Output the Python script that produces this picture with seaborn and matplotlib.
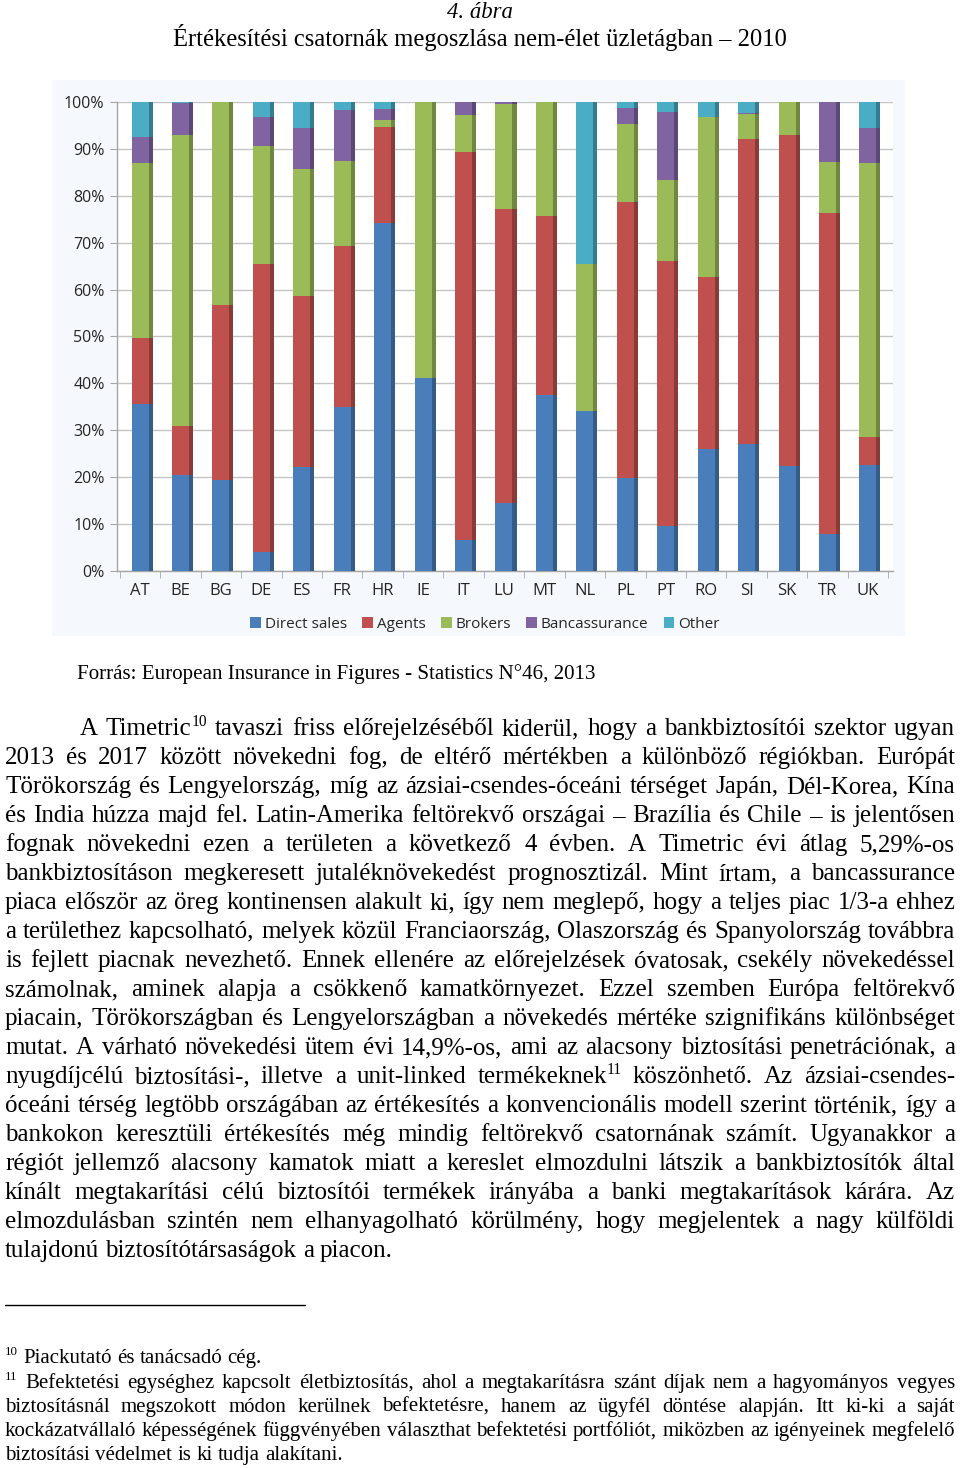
import numpy as np
import matplotlib
matplotlib.use('Agg')
import matplotlib.pyplot as plt
import matplotlib.colors as mcolors
from matplotlib.patches import Patch, Rectangle
from matplotlib.lines import Line2D
import seaborn as sns

# ---------------- data ----------------
countries = ['AT', 'BE', 'BG', 'DE', 'ES', 'FR', 'HR', 'IE', 'IT', 'LU',
             'MT', 'NL', 'PL', 'PT', 'RO', 'SI', 'SK', 'TR', 'UK']
direct_sales = [35.7, 20.4, 19.5, 4.1, 22.1, 35.0, 74.3, 41.1, 6.6, 14.5,
                37.6, 34.1, 19.9, 9.6, 26.1, 27.1, 22.4, 7.9, 22.6]
agents = [13.9, 10.6, 37.3, 61.3, 36.6, 34.3, 20.3, 0.0, 82.8, 62.6,
          38.1, 0.0, 58.8, 56.5, 36.5, 65.0, 70.5, 68.5, 6.0]
brokers = [37.3, 61.9, 43.2, 25.3, 27.0, 18.2, 1.6, 58.9, 7.9, 22.5,
           24.3, 31.3, 16.7, 17.3, 34.3, 5.4, 7.1, 10.9, 58.5]
bancassurance = [5.6, 6.9, 0.0, 6.1, 8.8, 10.9, 2.4, 0.0, 2.7, 0.4,
                 0.0, 0.0, 3.4, 14.5, 0.0, 0.2, 0.0, 12.7, 7.3]
other = [7.5, 0.2, 0.0, 3.2, 5.5, 1.6, 1.4, 0.0, 0.0, 0.0,
         0.0, 34.6, 1.2, 2.1, 3.1, 2.3, 0.0, 0.0, 5.6]
series_names = ['Direct sales', 'Agents', 'Brokers', 'Bancassurance', 'Other']
series_data = [direct_sales, agents, brokers, bancassurance, other]
series_colors = ['#4a7ebb', '#c0504d', '#9bbb59', '#8064a2', '#4bacc6']
y_ticks = [0, 10, 20, 30, 40, 50, 60, 70, 80, 90, 100]
y_tick_labels = ['0%', '10%', '20%', '30%', '40%', '50%', '60%', '70%', '80%', '90%', '100%']

title_1 = '4. ábra'
title_2 = 'Értékesítési csatornák megoszlása nem-élet üzletágban – 2010'
source_text = 'Forrás: European Insurance in Figures - Statistics N°46, 2013'

body_lines = [
    'A Timetric^10 tavaszi friss előrejelzéséből kiderül, hogy a bankbiztosítói szektor ugyan',
    '2013 és 2017 között növekedni fog, de eltérő mértékben a különböző régiókban. Európát',
    'Törökország és Lengyelország, míg az ázsiai-csendes-óceáni térséget Japán, Dél-Korea, Kína',
    'és India húzza majd fel. Latin-Amerika feltörekvő országai – Brazília és Chile – is jelentősen',
    'fognak növekedni ezen a területen a következő 4 évben. A Timetric évi átlag 5,29%-os',
    'bankbiztosításon megkeresett jutaléknövekedést prognosztizál. Mint írtam, a bancassurance',
    'piaca először az öreg kontinensen alakult ki, így nem meglepő, hogy a teljes piac 1/3-a ehhez',
    'a területhez kapcsolható, melyek közül Franciaország, Olaszország és Spanyolország továbbra',
    'is fejlett piacnak nevezhető. Ennek ellenére az előrejelzések óvatosak, csekély növekedéssel',
    'számolnak, aminek alapja a csökkenő kamatkörnyezet. Ezzel szemben Európa feltörekvő',
    'piacain, Törökországban és Lengyelországban a növekedés mértéke szignifikáns különbséget',
    'mutat. A várható növekedési ütem évi 14,9%-os, ami az alacsony biztosítási penetrációnak, a',
    'nyugdíjcélú biztosítási-, illetve a unit-linked termékeknek^11 köszönhető. Az ázsiai-csendes-',
    'óceáni térség legtöbb országában az értékesítés a konvencionális modell szerint történik, így a',
    'bankokon keresztüli értékesítés még mindig feltörekvő csatornának számít. Ugyanakkor a',
    'régiót jellemző alacsony kamatok miatt a kereslet elmozdulni látszik a bankbiztosítók által',
    'kínált megtakarítási célú biztosítói termékek irányába a banki megtakarítások kárára. Az',
    'elmozdulásban szintén nem elhanyagolható körülmény, hogy megjelentek a nagy külföldi',
    'tulajdonú biztosítótársaságok a piacon.',
]
footnote_lines = [
    '^10 Piackutató és tanácsadó cég.',
    '^11 Befektetési egységhez kapcsolt életbiztosítás, ahol a megtakarításra szánt díjak nem a hagyományos vegyes',
    'biztosításnál megszokott módon kerülnek befektetésre, hanem az ügyfél döntése alapján. Itt ki-ki a saját',
    'kockázatvállaló képességének függvényében választhat befektetési portfóliót, miközben az igényeinek megfelelő',
    'biztosítási védelmet is ki tudja alakítani.',
]

# ---------------- figure ----------------
sns.set_style('white')
SERIF = ['Liberation Serif', 'DejaVu Serif']
SANS = ['Open Sans', 'DejaVu Sans']
plt.rcParams['font.family'] = SERIF

W, H = 960, 1468
fig = plt.figure(figsize=(W / 100, H / 100), dpi=100)
fig.patch.set_facecolor('white')
renderer = fig.canvas.get_renderer()

# chart picture background (drawn below the axes)
fig.patches.append(Rectangle((52 / W, 1 - 636 / H), (905 - 52) / W, (636 - 80) / H,
                             transform=fig.transFigure, facecolor='#f5f8fc',
                             edgecolor='none', zorder=-5))

ax = fig.add_axes([117 / W, 1 - 571 / H, (893 - 117) / W, (571 - 102) / H])
ax.set_zorder(1)
ax.set_facecolor('white')

n = len(countries)
cum = np.zeros(n)
for name, vals, col in zip(series_names, series_data, series_colors):
    vals = np.asarray(vals, dtype=float)
    sns.barplot(x=countries, y=vals, bottom=cum, color=col, saturation=1,
                width=0.42, errorbar=None, ax=ax, linewidth=0, zorder=3)
    dark = tuple(np.array(mcolors.to_rgb(col)) * 0.72)
    ax.bar(np.arange(n) + 0.21, vals, bottom=cum, width=0.1, align='edge',
           color=dark, linewidth=0, zorder=3)
    cum += vals

ax.set_xlim(-0.57, 18.62)
ax.set_ylim(0, 100)
ax.set_yticks(y_ticks)
ax.set_yticklabels(y_tick_labels)
ax.set_xticks(range(n))
ax.set_xticklabels(countries)
ax.set_xticks(np.arange(-0.5, n, 1.0), minor=True)
ax.yaxis.grid(True, color='#c4c4c4', lw=1)
ax.xaxis.grid(False)
ax.set_axisbelow(True)
ax.set_xlabel('')
ax.set_ylabel('')
for s in ['top', 'right']:
    ax.spines[s].set_visible(False)
for s in ['left', 'bottom']:
    ax.spines[s].set_color('#a6a6a6')
    ax.spines[s].set_linewidth(1)
ax.tick_params(axis='y', left=True, length=5, color='#a6a6a6', labelsize=11.5,
               pad=4, labelcolor='#262626')
ax.tick_params(axis='x', which='major', bottom=False, length=0, labelsize=12,
               pad=9, labelcolor='#262626')
ax.tick_params(axis='x', which='minor', bottom=True, length=5, color='#a6a6a6')
for lab in ax.get_xticklabels() + ax.get_yticklabels():
    lab.set_fontfamily(SANS)

handles = [Patch(facecolor=c, edgecolor='none', label=nm)
           for nm, c in zip(series_names, series_colors)]
fig.legend(handles=handles, loc='center', bbox_to_anchor=(485 / W, 1 - 624 / H),
           ncol=5, frameon=False, handlelength=0.7, handleheight=0.7,
           handletextpad=0.25, columnspacing=1.0,
           prop={'family': SANS, 'size': 11}, labelcolor='#262626')

# ---------------- text helpers ----------------
_cache = {}


def tw(s, size, style='normal'):
    if not s:
        return 0.0
    key = (s, round(size, 4), style)
    if key not in _cache:
        t = fig.text(0, 0, s, fontsize=size, family=SERIF, style=style)
        _cache[key] = t.get_window_extent(renderer=renderer).width
        t.remove()
    return _cache[key]


SUP = 0.62


def pieces(word):
    if '^' in word:
        base, sup = word.split('^')
        return [(base, False), (sup, True)]
    return [(word, False)]


def word_w(word, size):
    return sum(tw(p, size * SUP if sp else size) for p, sp in pieces(word) if p)


def draw_word(word, x, yb, size):
    for p, sp in pieces(word):
        if not p:
            continue
        fs = size * SUP if sp else size
        dy = size * 0.38 * 100 / 72 if sp else 0.0
        fig.text(x / W, 1 - (yb - dy) / H, p, fontsize=fs, family=SERIF,
                 va='baseline', ha='left', color='black')
        x += tw(p, fs)


def fit_size(spec, cap, min_gap=0.2):
    ref = 10.0
    best = cap
    for words, x0, x1, just in spec:
        if not just:
            continue
        nat = sum(word_w(w, ref) for w in words) + (len(words) - 1) * min_gap * ref * 100 / 72
        best = min(best, ref * (x1 - x0) / nat)
    return best


def draw_lines(spec, baselines, size):
    sp = tw('n n', size) - tw('nn', size)
    for (words, x0, x1, just), yb in zip(spec, baselines):
        ws = [word_w(w, size) for w in words]
        if just and len(words) > 1:
            gap = (x1 - x0 - sum(ws)) / (len(words) - 1)
        else:
            gap = sp
        x = x0
        for w, wd in zip(words, ws):
            draw_word(w, x, yb, size)
            x += wd + gap


def fitted_text(s, x0, x1, yb, style='normal', cap=30):
    size = min(cap, 10.0 * (x1 - x0) / tw(s, 10.0, style))
    fig.text(((x0 + x1) / 2) / W, 1 - yb / H, s, fontsize=size, family=SERIF,
             style=style, ha='center', va='baseline', color='black')


# titles and source
fitted_text(title_1, 447, 513, 18, style='italic')
fitted_text(title_2, 172, 788, 46)
fitted_text(source_text, 78, 595, 679)

# body paragraph
body_spec = []
for i, ln in enumerate(body_lines):
    x0 = 80 if i == 0 else 5
    body_spec.append((ln.split(' '), x0, 955, i < len(body_lines) - 1))
body_size = fit_size(body_spec, 18.0, min_gap=0.17)
draw_lines(body_spec, [735 + 29 * i for i in range(len(body_lines))], body_size)

# footnote separator
fig.lines.append(Line2D([5 / W, 305 / W], [1 - 1305 / H, 1 - 1305 / H],
                        transform=fig.transFigure, color='black', lw=1))

foot_spec = []
for i, ln in enumerate(footnote_lines):
    just = i in (1, 2, 3)
    foot_spec.append((ln.split(' '), 5, 955, just))
foot_size = fit_size(foot_spec, 15.0, min_gap=0.06)
draw_lines(foot_spec, [1363, 1388, 1412, 1436, 1460], foot_size)

fig.savefig('out.png', dpi=100)
